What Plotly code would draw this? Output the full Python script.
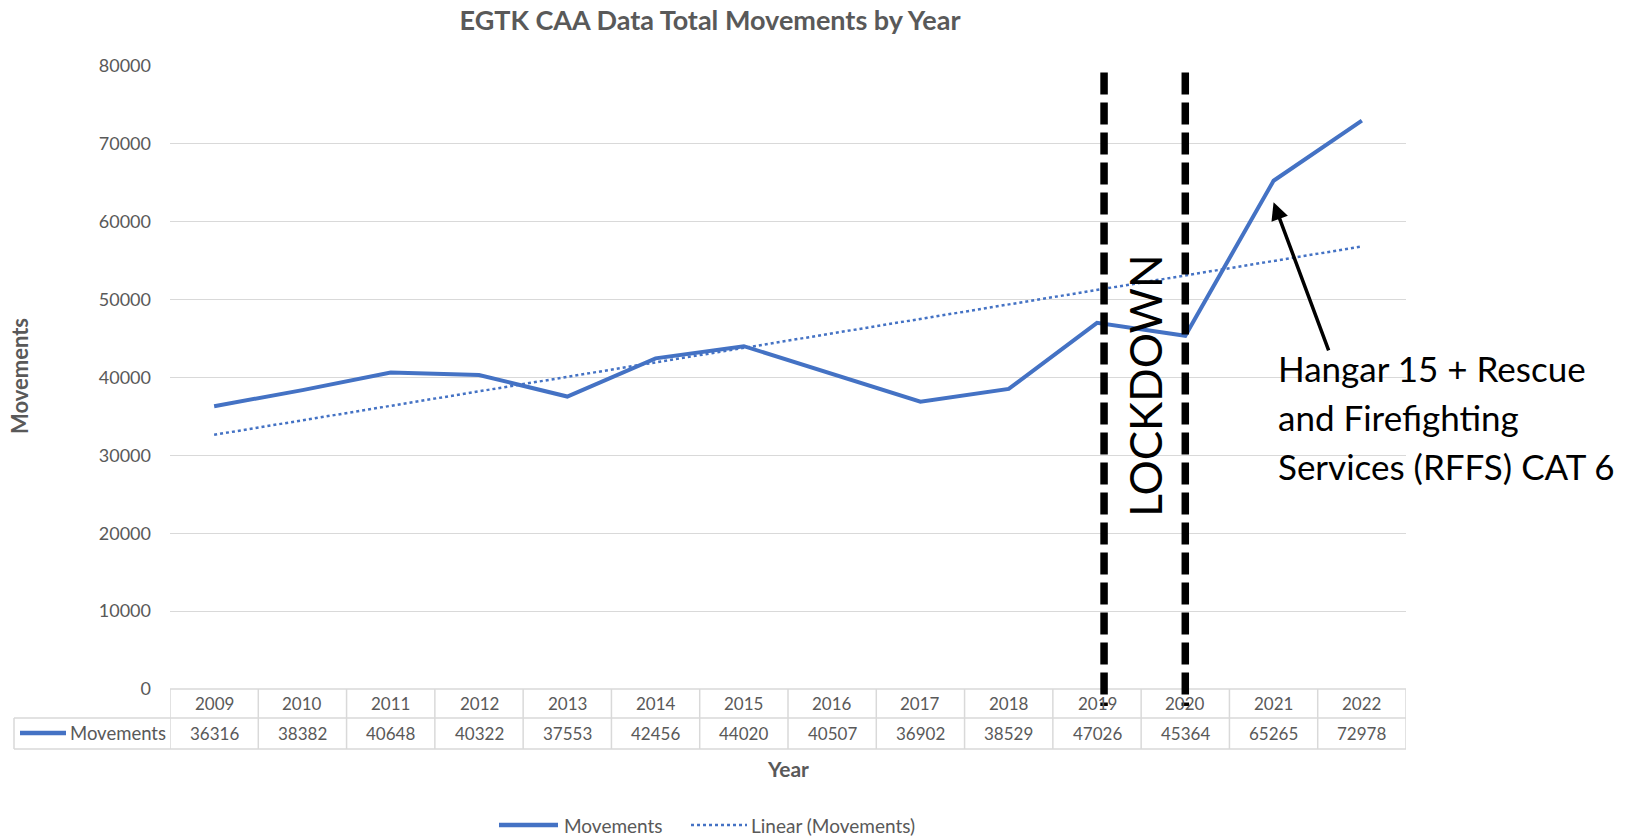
import numpy as np
import plotly.graph_objects as go

# ---------------- data ----------------
years = [2009, 2010, 2011, 2012, 2013, 2014, 2015, 2016, 2017, 2018, 2019, 2020, 2021, 2022]
movements = [36316, 38382, 40648, 40322, 37553, 42456, 44020, 40507, 36902, 38529, 47026, 45364, 65265, 72978]
lockdown_bounds = [2019.08, 2020.0]
note_lines = ["Hangar 15 + Rescue", "and Firefighting", "Services (RFFS) CAT 6"]
note_target = [2021, 62500]      # arrow head (data coords)
note_tail = [2021.63, 43300]     # arrow tail (data coords)

# Excel "Linear" trendline = least-squares fit of the series
slope, intercept = np.polyfit(years, movements, 1)
trend = [slope * y + intercept for y in years]

# ---------------- layout geometry ----------------
W, H = 1625, 836
L, R, T, B = 170, 1406, 66, 689
GRAY = "#595959"
BLUE = "#4472C4"
GRID = "#d9d9d9"
FONT = "Lato"


def px(xp):
    return (xp - L) / (R - L)


def py(yp):
    return (B - yp) / (B - T)


fig = go.Figure()
fig.add_trace(go.Scatter(x=years, y=movements, mode="lines", name="Movements",
                         line=dict(color=BLUE, width=4)))
fig.add_trace(go.Scatter(x=years, y=trend, mode="lines", name="Linear (Movements)",
                         line=dict(color=BLUE, width=2.5, dash="dot")))

shapes = []
annotations = []


def label(x, y, text, size, color=GRAY, xref="paper", yref="paper", xanchor="center",
          yanchor="middle", angle=0):
    annotations.append(dict(x=x, y=y, xref=xref, yref=yref, text=text, showarrow=False,
                            xanchor=xanchor, yanchor=yanchor, textangle=angle,
                            font=dict(family=FONT, size=size, color=color)))


# data table grid
x_lo = years[0] - 0.5
x_hi = years[-1] + 0.5
shapes.append(dict(type="line", xref="paper", yref="paper", x0=0, x1=1, y0=0, y1=0,
                   line=dict(color=GRID, width=1.5)))
for yy in (718, 749):
    shapes.append(dict(type="line", xref="paper", yref="paper", x0=px(14), x1=1,
                       y0=py(yy), y1=py(yy), line=dict(color=GRID, width=1.5)))
for i in range(len(years) + 1):
    xv = x_lo + i
    shapes.append(dict(type="line", xref="x", yref="paper", x0=xv, x1=xv,
                       y0=0, y1=py(749), line=dict(color=GRID, width=1.5)))
shapes.append(dict(type="line", xref="paper", yref="paper", x0=px(14), x1=px(14),
                   y0=py(718), y1=py(749), line=dict(color=GRID, width=1.5)))
# legend key inside the table
shapes.append(dict(type="line", xref="paper", yref="paper", x0=px(20), x1=px(66),
                   y0=py(733), y1=py(733), line=dict(color=BLUE, width=4.5)))

for yr, v in zip(years, movements):
    label(yr, py(703), str(yr), 17, xref="x")
    label(yr, py(733), str(v), 17, xref="x")
label(px(68), py(733), "Movements", 18.5, xanchor="left")

# lockdown dashed lines (drawn over the table header)
for xb in lockdown_bounds:
    shapes.append(dict(type="line", xref="x", yref="paper", x0=xb, x1=xb,
                       y0=py(72.5), y1=py(706), layer="above",
                       line=dict(color="black", width=7.5, dash="22px,8px")))

# axis titles
label(px(788), py(768), "<b>Year</b>", 21)
label(px(19), py(376), "<b>Movements</b>", 22, angle=-90)

# bottom legend (drawn manually to match Excel's key lengths)
shapes.append(dict(type="line", xref="paper", yref="paper", x0=px(499), x1=px(558),
                   y0=py(825), y1=py(825), line=dict(color=BLUE, width=4.5)))
shapes.append(dict(type="line", xref="paper", yref="paper", x0=px(691), x1=px(747),
                   y0=py(825), y1=py(825), line=dict(color=BLUE, width=2.5, dash="dot")))
label(px(562), py(825), "Movements", 19, xanchor="left")
label(px(749), py(825), "Linear (Movements)", 19, xanchor="left")

# LOCKDOWN label
label(sum(lockdown_bounds) / 2, py(386), "LOCKDOWN", 44, color="black", xref="x", angle=-90)

# arrow + note
annotations.append(dict(x=note_target[0], y=note_target[1], xref="x", yref="y",
                        ax=note_tail[0], ay=note_tail[1], axref="x", ayref="y",
                        text="", showarrow=True, arrowhead=2, arrowsize=1,
                        arrowwidth=3.5, arrowcolor="black", standoff=0, startstandoff=0))
for k, line in enumerate(note_lines):
    label(px(1276), py(368 + 49 * k), line, 35, color="black", xanchor="left")

fig.update_layout(
    width=W, height=H,
    margin=dict(l=L, r=W - R, t=T, b=H - B, pad=0),
    paper_bgcolor="white", plot_bgcolor="white",
    showlegend=False,
    title=dict(text="<b>EGTK CAA Data Total Movements by Year</b>",
               x=710 / W, xref="container", xanchor="center",
               y=1 - 21 / H, yref="container", yanchor="middle",
               font=dict(family=FONT, size=27, color=GRAY)),
    xaxis=dict(range=[x_lo, x_hi], showticklabels=False, showgrid=False,
               zeroline=False, showline=False, ticks=""),
    yaxis=dict(range=[0, 80000], dtick=10000, tick0=0, showgrid=True, gridcolor=GRID,
               gridwidth=1, zeroline=False, showline=False, ticks="",
               tickformat="d", ticklabelstandoff=18,
               tickfont=dict(family=FONT, size=18, color=GRAY)),
    shapes=shapes,
    annotations=annotations,
)

fig.write_html("out.html")
